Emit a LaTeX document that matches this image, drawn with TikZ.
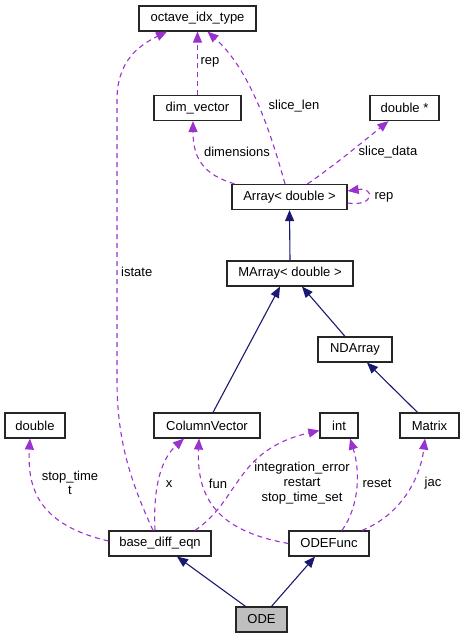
\documentclass[tikz,border=0pt]{standalone}
\usepackage{fontspec}
\setmainfont{Liberation Sans}
\usetikzlibrary{arrows.meta}
\definecolor{edgep}{HTML}{9A32CD}
\definecolor{navyc}{HTML}{191970}
\definecolor{odegray}{HTML}{BFBFBF}
\begin{document}
\begin{tikzpicture}[x=1pt,y=-1pt,
  box/.style={draw=black!85, line width=1.2pt, fill=white, inner sep=0pt, minimum height=25pt, font=\fontsize{13}{15}\selectfont},
  mem/.style={draw=edgep, dash pattern=on 5pt off 4pt, line width=1.1pt, -{Triangle[length=11pt,width=9pt]}},
  inh/.style={draw=navyc, line width=1.1pt, -{Triangle[length=11pt,width=9pt]}},
  lbl/.style={font=\fontsize{13}{14}\selectfont, inner sep=0pt, align=center}]
\useasboundingbox (0,0) rectangle (465,639);
% nodes
\node[box, minimum width=117pt] (oit) at (197.5,18.5) {octave\_idx\_type};
\node[box, minimum width=87pt] (dimv) at (197.5,108) {dim\_vector};
\node[box, minimum width=69pt] (dblp) at (404.5,108) {double *};
\node[box, minimum width=115pt] (arr) at (289.5,197) {Array< double >};
\node[box, minimum width=126pt] (marr) at (290,273.5) {MArray< double >};
\node[box, minimum width=74pt] (nda) at (355,349.5) {NDArray};
\node[box, minimum width=60pt] (dbl) at (35,425.5) {double};
\node[box, minimum width=106pt] (cv) at (207,425.5) {ColumnVector};
\node[box, minimum width=38pt] (int) at (339,425.5) {int};
\node[box, minimum width=59pt] (mat) at (429.5,425.5) {Matrix};
\node[box, minimum width=102pt] (bde) at (160,543.5) {base\_diff\_eqn};
\node[box, minimum width=80pt] (odef) at (329,543.5) {ODEFunc};
\node[box, minimum width=51pt, fill=odegray] (ode) at (261.5,619.5) {ODE};
% inheritance
\draw[inh] (marr.north) -- (arr.south);
\draw[inh] ([xshift=6pt]cv.north) -- ([xshift=-10pt]marr.south);
\draw[inh] ([xshift=-10pt]nda.north) -- ([xshift=12pt]marr.south);
\draw[inh] ([xshift=-12pt]mat.north) -- ([xshift=12pt]nda.south);
\draw[inh] ([xshift=-16pt]ode.north) -- ([xshift=17pt]bde.south);
\draw[inh] ([xshift=10pt]ode.north) -- ([xshift=-14pt]odef.south);
% members
\draw[mem] (dimv.north) -- (oit.south);
\node[lbl] at (210,62) {rep};
\draw[mem] ([xshift=-7pt]bde.north) .. controls (130,480) and (117,440) .. (117,380) -- (117,100) .. controls (117,60) and (140,45) .. ([xshift=-30.5pt]oit.south);
\node[lbl, anchor=west] at (121,272) {istate};
\draw[mem] ([xshift=-4.5pt]arr.north) .. controls (270,130) and (250,70) .. ([xshift=10pt]oit.south);
\node[lbl] at (294,106) {slice\_len};
\draw[mem] ([xshift=-55pt]arr.north) .. controls (205,175) and (193,160) .. ([xshift=-4.5pt]dimv.south);
\node[lbl] at (237,152) {dimensions};
\draw[mem] ([xshift=18pt]arr.north) .. controls (335,165) and (365,140) .. ([xshift=-16pt]dblp.south);
\node[lbl] at (388,152) {slice\_data};
\draw[mem] ([yshift=-6pt]arr.east) .. controls (375,207) and (375,187) .. ([yshift=6pt]arr.east);
\node[lbl] at (384,197) {rep};
\draw[mem] ([yshift=2.5pt]bde.west) .. controls (40,525) and (27,490) .. ([xshift=-5pt]dbl.south);
\node[lbl] at (70,483) {stop\_time\\t};
\draw[mem] ([xshift=-5pt]bde.north) .. controls (153,490) and (160,460) .. ([xshift=-23pt]cv.south);
\node[lbl] at (169,484) {x};
\draw[mem] (odef.west) .. controls (225,532) and (196,505) .. ([xshift=-8pt]cv.south);
\node[lbl] at (218,484) {fun};
\draw[mem] ([xshift=35pt]bde.north) .. controls (240,500) and (235,450) .. ([yshift=-5pt]int.west);
\node[lbl, font=\fontsize{13}{15}\selectfont] at (302,483) {integration\_error\\restart\\stop\_time\_set};
\draw[mem] ([xshift=13pt]odef.north) .. controls (360,505) and (360,470) .. ([xshift=11pt]int.south);
\node[lbl] at (377,483) {reset};
\draw[mem] ([xshift=33pt]odef.north) .. controls (400,515) and (420,480) .. ([xshift=-4.5pt]mat.south);
\node[lbl] at (433,483) {jac};
\end{tikzpicture}
\end{document}
